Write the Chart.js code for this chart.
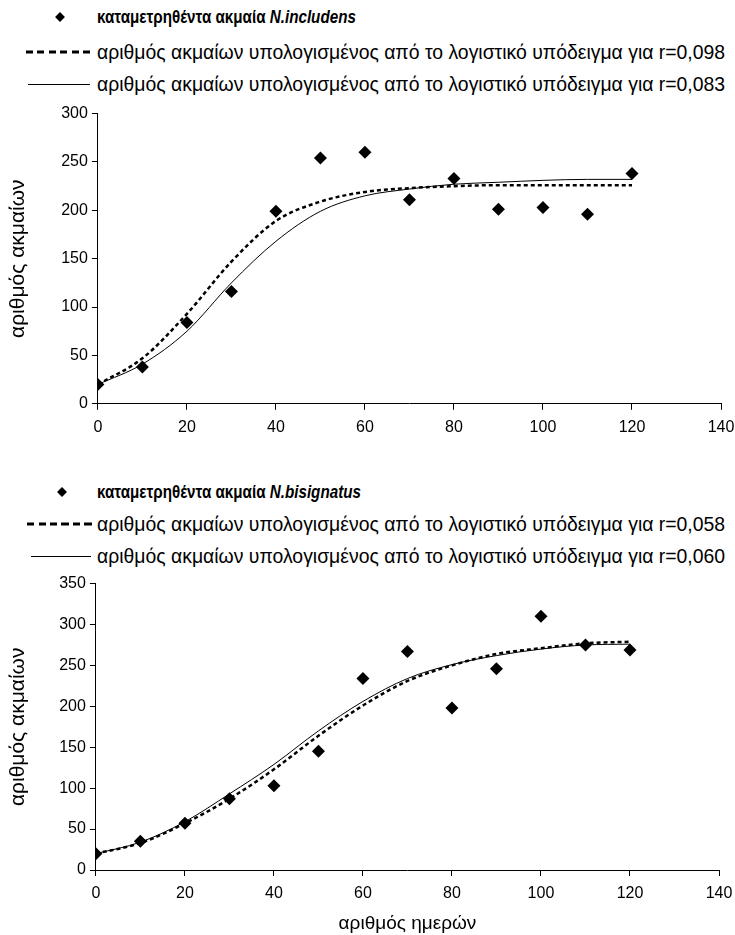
<!DOCTYPE html>
<html>
<head>
<meta charset="utf-8">
<script src="https://cdn.jsdelivr.net/npm/chart.js@4.4.1/dist/chart.umd.min.js"></script>
<style>
    body { margin: 0; background: #fff; font-family: "Liberation Sans", Arial, sans-serif; }
    #page { position: relative; width: 735px; height: 935px; overflow: hidden; }
    .txt { position: absolute; left: 97px; font-size: 19.4px; line-height: 22px; white-space: nowrap; color: #000;
           transform: translateY(-50%); }
    .bold { font-size: 19px; font-weight: bold; transform-origin: left center; transform: translateY(-50%) scaleX(0.8); }
    .diamond { position: absolute; width: 7px; height: 7px; background: #000; transform: translate(-50%, -50%) rotate(45deg); }
    .dash { position: absolute; height: 3px; transform: translateY(-50%);
            background: repeating-linear-gradient(90deg, #000 0 7px, transparent 7px 11.5px); }
    .solid { position: absolute; height: 1px; background: #000; }
    .box { position: absolute; left: 0; width: 735px; }
</style>
</head>
<body>
<div id="page">
    <!-- top legend -->
    <span class="diamond" style="left:60px; top:17px"></span>
    <span class="txt bold" style="top:17px">καταμετρηθέντα ακμαία <i>N.includens</i></span>
    <span class="dash" style="left:26px; width:66px; top:52px"></span>
    <span class="txt" style="top:52px">αριθμός ακμαίων υπολογισμένος από το λογιστικό υπόδειγμα για r=0,098</span>
    <span class="solid" style="left:28px; width:62px; top:84px"></span>
    <span class="txt" style="top:84px">αριθμός ακμαίων υπολογισμένος από το λογιστικό υπόδειγμα για r=0,083</span>

    <div class="box" style="top:100px; height:345px"><canvas id="chartTop"></canvas></div>

    <!-- bottom legend -->
    <span class="diamond" style="left:62px; top:492px"></span>
    <span class="txt bold" style="top:492px">καταμετρηθέντα ακμαία <i>N.bisignatus</i></span>
    <span class="dash" style="left:27px; width:66px; top:524px"></span>
    <span class="txt" style="top:524px">αριθμός ακμαίων υπολογισμένος από το λογιστικό υπόδειγμα για r=0,058</span>
    <span class="solid" style="left:31px; width:60px; top:556px"></span>
    <span class="txt" style="top:556px">αριθμός ακμαίων υπολογισμένος από το λογιστικό υπόδειγμα για r=0,060</span>

    <div class="box" style="top:570px; height:365px"><canvas id="chartBottom"></canvas></div>
</div>

<script>
// days on the x axis
const days = [0, 10, 20, 30, 40, 50, 60, 70, 80, 90, 100, 110, 120];

// N.includens
const includensCounted = [20, 38, 84, 116, 199, 254, 260, 211, 233, 201, 203, 196, 238];
const includensR098 = [20, 47, 93, 147, 189, 209, 219, 223, 225, 226, 226, 226, 226];
const includensR083 = [20, 41, 75, 125, 168, 199, 215, 222, 227, 229, 231, 232, 232];

// N.bisignatus
const bisignatusCounted = [20, 35, 57, 87, 103, 145, 234, 267, 198, 246, 310, 275, 269];
const bisignatusR058 = [20, 33, 57, 87, 123, 164, 201, 231, 250, 264, 271, 277, 279];
const bisignatusR060 = [20, 34, 59, 93, 129, 170, 206, 234, 251, 262, 270, 275, 276];

const xTicks = { min: 0, max: 140, step: 20 };
const FONT = { family: '"Liberation Sans", Arial, sans-serif', size: 16 };

const toPoints = (values) => values.map((v, i) => ({ x: days[i], y: v }));

const makeChart = (canvasId, counted, dashed, solid, yMax, xTitle, titleGap, rightPad) => {
    const ctx = document.querySelector(canvasId).getContext("2d");
    return new Chart(ctx, {
        type: "scatter",
        data: {
            datasets: [
                {
                    data: toPoints(counted),
                    showLine: false,
                    pointStyle: "rectRot",
                    pointRadius: 6.5,
                    backgroundColor: "#000",
                    borderColor: "#000",
                    borderWidth: 0
                },
                {
                    data: toPoints(dashed),
                    showLine: true,
                    borderColor: "#000",
                    borderWidth: 2.5,
                    borderDash: [4, 3],
                    pointRadius: 0,
                    cubicInterpolationMode: "monotone"
                },
                {
                    data: toPoints(solid),
                    showLine: true,
                    borderColor: "#000",
                    borderWidth: 1,
                    pointRadius: 0,
                    cubicInterpolationMode: "monotone"
                }
            ]
        },
        options: {
            responsive: true,
            maintainAspectRatio: false,
            animation: false,
            layout: { padding: { top: 1, right: 0, left: 0, bottom: 0 } },
            scales: {
                x: {
                    type: "linear",
                    min: xTicks.min,
                    max: xTicks.max,
                    ticks: { stepSize: xTicks.step, color: "#000", font: FONT, padding: 8, maxRotation: 0 },
                    grid: { drawOnChartArea: false, drawTicks: true, tickLength: 6, color: "#000" },
                    border: { color: "#000", width: 1 },
                    title: { display: !!xTitle, text: xTitle, color: "#000",
                             font: { family: FONT.family, size: 19 }, padding: { top: 1, bottom: 0 } },
                    afterFit: (scale) => { scale.paddingRight = rightPad; } // keep the last label close to the edge
                },
                y: {
                    min: 0,
                    max: yMax,
                    ticks: { stepSize: 50, color: "#000", font: FONT, padding: 4 },
                    grid: { drawOnChartArea: false, drawTicks: true, tickLength: 6, color: "#000" },
                    border: { color: "#000", width: 1 },
                    title: { display: true, text: "αριθμός ακμαίων", color: "#000",
                             font: { family: FONT.family, size: 21 }, padding: { top: 6, bottom: titleGap } }
                }
            },
            plugins: {
                legend: { display: false },
                tooltip: { enabled: false }
            }
        }
    });
};

document.addEventListener('DOMContentLoaded', () => {
    makeChart("#chartTop", includensCounted, includensR098, includensR083, 300, "", 26, 14);
    makeChart("#chartBottom", bisignatusCounted, bisignatusR058, bisignatusR060, 350, "αριθμός ημερών", 24, 16);
});
</script>
</body>
</html>
